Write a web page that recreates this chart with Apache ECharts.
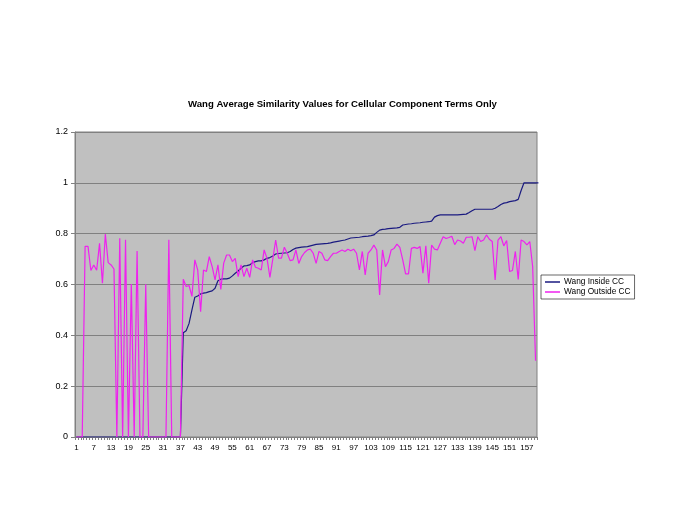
<!DOCTYPE html>
<html>
<head>
<meta charset="utf-8">
<script src="https://cdn.jsdelivr.net/npm/echarts@6/dist/echarts.min.js"></script>
<style>
html,body{margin:0;padding:0;background:#fff;}
#chart{width:685px;height:529px;}
</style>
</head>
<body>
<div id="chart"></div>
<script>
var titleText = 'Wang Average Similarity Values for Cellular Component Terms Only';
var seriesNames = ['Wang Inside CC', 'Wang Outside CC'];
var categories = [];
for (var c = 1; c <= 160; c++) categories.push(String(c));
var yTicks = [0, 0.2, 0.4, 0.6, 0.8, 1, 1.2];

var insideCC = [
 0,0,0,0,0,0,0,0,0,0,
 0,0,0,0,0,0,0,0,0,0,
 0,0,0,0,0,0,0,0,0,0,
 0,0,0,0,0,0,0,
 0.41,0.418,0.447,0.50,0.55,0.555,0.563,0.566,0.568,0.572,
 0.575,0.585,0.615,0.621,0.622,0.622,0.625,0.634,0.644,0.653,
 0.664,0.673,0.674,0.677,0.686,0.690,0.693,0.693,0.697,0.703,
 0.706,0.712,0.72,0.722,0.723,0.724,0.725,0.73,0.738,
 0.743,0.745,0.747,0.748,0.749,0.752,0.755,0.758,0.759,0.76,
 0.761,0.762,0.764,0.767,0.769,0.771,0.773,0.775,0.779,0.783,
 0.784,0.785,0.786,0.788,0.789,0.79,0.792,0.795,0.805,0.814,
 0.817,0.818,0.82,0.821,0.822,0.823,0.825,0.834,0.836,0.838,
 0.839,0.841,0.842,0.843,0.845,0.846,0.847,0.849,0.865,0.871,
 0.874,0.874,0.874,0.874,0.874,0.874,0.874,0.875,0.876,0.877,
 0.883,0.89,0.896,0.896,0.896,0.896,0.896,0.896,0.896,0.9,
 0.907,0.915,0.92,0.922,0.926,0.928,0.93,0.935,0.97,1.0,
 1.0,1.0,1.0,1.0,1.0
];

var outsideCC = [
 0,0,0,0.75,0.75,0.655,0.677,0.656,0.762,0.605,
 0.798,0.686,0.677,0.661,0,0.782,0,0.776,0,0.602,
 0,0.732,0,0,0.601,0,0,0,0,0,
 0,0,0.776,0,0,0,0,
 0.621,0.592,0.596,0.553,0.697,0.657,0.493,0.657,0.651,0.710,
 0.670,0.618,0.677,0.581,0.684,0.716,0.716,0.690,0.703,0.631,
 0.677,0.631,0.664,0.628,0.697,0.668,0.664,0.657,0.736,0.703,
 0.628,0.70,0.775,0.704,0.704,0.747,0.723,0.694,0.697,
 0.736,0.683,0.710,0.726,0.736,0.739,0.723,0.683,0.730,0.723,
 0.697,0.694,0.710,0.723,0.723,0.730,0.736,0.730,0.739,0.733,
 0.739,0.723,0.657,0.730,0.638,0.723,0.736,0.755,0.736,0.559,
 0.736,0.670,0.690,0.736,0.742,0.759,0.746,0.697,0.642,0.642,
 0.742,0.746,0.742,0.749,0.645,0.752,0.605,0.755,0.739,0.736,
 0.762,0.788,0.781,0.785,0.79,0.757,0.775,0.771,0.762,0.786,
 0.786,0.788,0.733,0.788,0.769,0.775,0.795,0.778,0.769,0.618,
 0.775,0.788,0.752,0.773,0.651,0.655,0.73,0.62,0.775,0.769,
 0.756,0.769,0.671,0.30
];

var chart = echarts.init(document.getElementById('chart'), null, {renderer: 'canvas'});
chart.setOption({
  animation: false,
  backgroundColor: '#ffffff',
  title: {
    text: titleText,
    left: 'center',
    top: 94,
    textStyle: {fontFamily: 'Liberation Sans, Arial, sans-serif', fontSize: 9.6, fontWeight: 'bold', color: '#000'}
  },
  legend: {
    orient: 'vertical',
    left: 541,
    top: 275,
    data: seriesNames,
    icon: 'rect',
    itemWidth: 15,
    itemHeight: 1.5,
    itemGap: 2,
    padding: [3, 4, 3, 4],
    borderColor: '#000',
    borderWidth: 0.6,
    textStyle: {fontFamily: 'Liberation Sans, Arial, sans-serif', fontSize: 8.3, color: '#000', padding: [0,0,0,-1]}
  },
  grid: {left: 75, right: 148, top: 132, bottom: 92, containLabel: false, show: true, backgroundColor: '#c0c0c0', borderColor: '#808080', borderWidth: 1},
  xAxis: {
    type: 'category',
    data: categories,
    boundaryGap: true,
    axisLine: {show: true, lineStyle: {color: '#808080', width: 1}},
    axisTick: {show: true, interval: 0, length: 3, lineStyle: {color: '#808080'}},
    axisLabel: {interval: 5, fontFamily: 'Liberation Sans, Arial, sans-serif', fontSize: 8, color: '#000', margin: 7},
    splitLine: {show: false}
  },
  yAxis: {
    type: 'value',
    min: yTicks[0],
    max: yTicks[yTicks.length - 1],
    interval: 0.2,
    axisLine: {show: true, lineStyle: {color: '#808080'}},
    axisTick: {show: true, length: 4, lineStyle: {color: '#808080'}},
    axisLabel: {fontFamily: 'Liberation Sans, Arial, sans-serif', fontSize: 9, color: '#000', margin: 7},
    splitLine: {show: true, lineStyle: {color: '#808080', width: 1}}
  },
  series: [
    {name: seriesNames[0], type: 'line', data: insideCC, symbol: 'none', showSymbol: false,
     lineStyle: {color: '#1a1a80', width: 1.2}, itemStyle: {color: '#1a1a80'}},
    {name: seriesNames[1], type: 'line', data: outsideCC, symbol: 'none', showSymbol: false,
     lineStyle: {color: '#ee22ee', width: 1.2}, itemStyle: {color: '#ee22ee'}}
  ]
});
</script>
</body>
</html>
